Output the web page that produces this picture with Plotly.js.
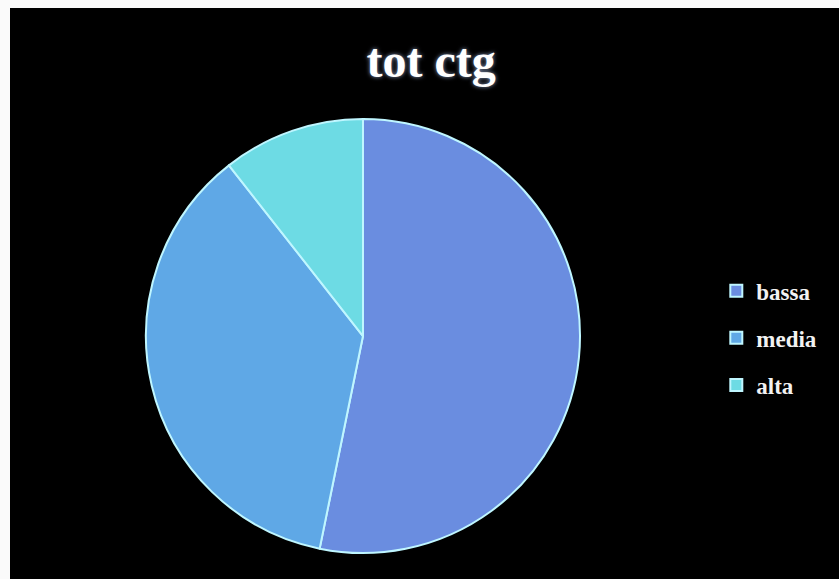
<!DOCTYPE html>
<html>
<head>
<meta charset="utf-8">
<script src="https://cdn.plot.ly/plotly-3.0.1.min.js"></script>
<style>
html,body{margin:0;padding:0;background:#fafafa;width:839px;height:579px;overflow:hidden;}
#chart{position:absolute;left:10px;top:8px;width:829px;height:571px;background:#000;}
#chart .legendtext{font-size:23px !important;transform:translateY(-4px);}
</style>
</head>
<body>
<div id="chart"></div>
<script>
const categories = ["bassa", "media", "alta"];
const values = [53.2, 36.2, 10.6];
const sliceColors = ["#6a8de0", "#5fa8e6", "#6ddbe4"];
const chartTitle = "tot ctg";

const trace = {
  type: "pie",
  labels: categories,
  values: values,
  sort: false,
  direction: "clockwise",
  rotation: 0,
  textinfo: "none",
  hoverinfo: "label+percent",
  marker: {colors: sliceColors, line: {color: "#bff6ff", width: 2}},
  domain: {x: [0.164, 0.6876], y: [0.0455, 0.8056]}
};

const layout = {
  width: 829, height: 571,
  paper_bgcolor: "#000", plot_bgcolor: "#000",
  margin: {l: 0, r: 0, t: 0, b: 0, autoexpand: false},
  title: {
    text: chartTitle,
    x: 0.508, xanchor: "center",
    y: 0.909, yanchor: "middle",
    font: {family: "Liberation Serif, serif", size: 48, color: "#ffffff", weight: "bold", shadow: "0px 0px 4px #8899bb"}
  },
  showlegend: true,
  legend: {
    x: 0.852, xanchor: "left",
    y: 0.422, yanchor: "middle",
    font: {family: "Liberation Serif, serif", size: 34, color: "#f2f2f2", weight: "bold"},
    bgcolor: "rgba(0,0,0,0)",
    itemwidth: 30
  }
};

Plotly.newPlot("chart", [trace], layout, {displayModeBar: false, staticPlot: true});
</script>
</body>
</html>
